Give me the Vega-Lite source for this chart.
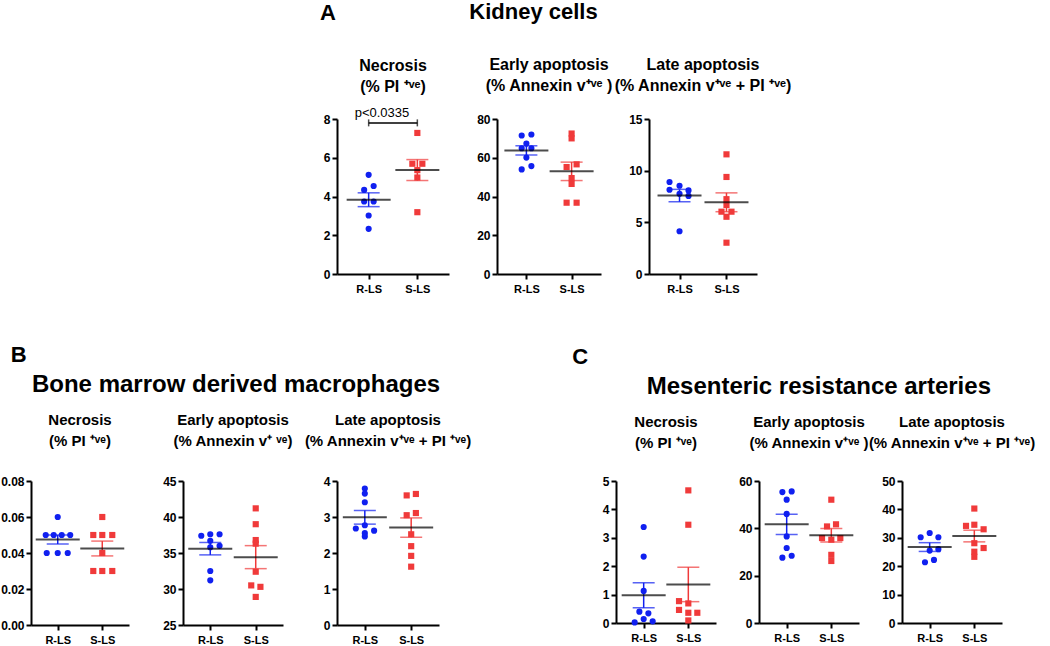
{
  "$schema": "https://vega.github.io/schema/vega-lite/v6.json",
  "padding": {"left": 0, "top": 1, "right": 0, "bottom": 0},
  "config": {
    "view": {"stroke": null},
    "font": "Liberation Sans",
    "axis": {"labelFont": "Liberation Sans", "labelFontWeight": "bold", "labelFontSize": 12, "labelColor": "#000", "domainColor": "#000", "domainWidth": 2, "tickColor": "#000", "tickWidth": 2, "tickSize": 5, "grid": false, "labelPadding": 2},
    "axisX": {"labelAngle": 0, "labelFontSize": 11, "labelPadding": 4},
    "title": {"font": "Liberation Sans", "fontWeight": "bold", "color": "#000", "fontSize": 15, "lineHeight": 20}
  },
  "datasets": {
    "pts": [
      {"p":"A1","g":"R-LS","v":5.12,"j":0},{"p":"A1","g":"R-LS","v":4.34,"j":-0.45},{"p":"A1","g":"R-LS","v":4.54,"j":0.5},{"p":"A1","g":"R-LS","v":3.74,"j":-0.45},{"p":"A1","g":"R-LS","v":3.74,"j":0.5},{"p":"A1","g":"R-LS","v":3.02,"j":0},{"p":"A1","g":"R-LS","v":2.33,"j":0},
      {"p":"A1","g":"S-LS","v":7.28,"j":0},{"p":"A1","g":"S-LS","v":5.69,"j":-0.5},{"p":"A1","g":"S-LS","v":5.69,"j":0.5},{"p":"A1","g":"S-LS","v":5.36,"j":0},{"p":"A1","g":"S-LS","v":4.98,"j":0},{"p":"A1","g":"S-LS","v":3.19,"j":0},
      {"p":"A2","g":"R-LS","v":71.5,"j":-0.47},{"p":"A2","g":"R-LS","v":72.0,"j":0.5},{"p":"A2","g":"R-LS","v":67.3,"j":0},{"p":"A2","g":"R-LS","v":64.9,"j":-0.47},{"p":"A2","g":"R-LS","v":64.9,"j":0.5},{"p":"A2","g":"R-LS","v":60.1,"j":0},{"p":"A2","g":"R-LS","v":54.0,"j":-0.47},{"p":"A2","g":"R-LS","v":55.7,"j":0.5},
      {"p":"A2","g":"S-LS","v":72.5,"j":0},{"p":"A2","g":"S-LS","v":70.0,"j":0},{"p":"A2","g":"S-LS","v":55.2,"j":-0.5},{"p":"A2","g":"S-LS","v":56.6,"j":0.5},{"p":"A2","g":"S-LS","v":49.5,"j":0},{"p":"A2","g":"S-LS","v":46.5,"j":0},{"p":"A2","g":"S-LS","v":36.8,"j":-0.5},{"p":"A2","g":"S-LS","v":36.8,"j":0.5},
      {"p":"A3","g":"R-LS","v":8.90,"j":-1},{"p":"A3","g":"R-LS","v":8.54,"j":0},{"p":"A3","g":"R-LS","v":8.15,"j":-1},{"p":"A3","g":"R-LS","v":8.09,"j":0.9},{"p":"A3","g":"R-LS","v":7.76,"j":0},{"p":"A3","g":"R-LS","v":7.56,"j":0.9},{"p":"A3","g":"R-LS","v":4.14,"j":0},
      {"p":"A3","g":"S-LS","v":11.58,"j":0},{"p":"A3","g":"S-LS","v":9.39,"j":0},{"p":"A3","g":"S-LS","v":7.24,"j":0},{"p":"A3","g":"S-LS","v":6.68,"j":0},{"p":"A3","g":"S-LS","v":6.03,"j":-0.5},{"p":"A3","g":"S-LS","v":6.03,"j":0.5},{"p":"A3","g":"S-LS","v":5.54,"j":0},{"p":"A3","g":"S-LS","v":3.03,"j":0},
      {"p":"B1","g":"R-LS","v":0.06,"j":0},{"p":"B1","g":"R-LS","v":0.05,"j":-1.2},{"p":"B1","g":"R-LS","v":0.05,"j":-0.4},{"p":"B1","g":"R-LS","v":0.05,"j":0.4},{"p":"B1","g":"R-LS","v":0.05,"j":1.25},{"p":"B1","g":"R-LS","v":0.04,"j":-1.1},{"p":"B1","g":"R-LS","v":0.04,"j":0},{"p":"B1","g":"R-LS","v":0.04,"j":1.0},
      {"p":"B1","g":"S-LS","v":0.06,"j":0},{"p":"B1","g":"S-LS","v":0.05,"j":-0.9},{"p":"B1","g":"S-LS","v":0.05,"j":0},{"p":"B1","g":"S-LS","v":0.05,"j":1.0},{"p":"B1","g":"S-LS","v":0.04,"j":0},{"p":"B1","g":"S-LS","v":0.03,"j":-0.9},{"p":"B1","g":"S-LS","v":0.03,"j":0},{"p":"B1","g":"S-LS","v":0.03,"j":1.0},
      {"p":"B2","g":"R-LS","v":37.4,"j":-0.9},{"p":"B2","g":"R-LS","v":37.6,"j":0},{"p":"B2","g":"R-LS","v":37.6,"j":0.93},{"p":"B2","g":"R-LS","v":36.7,"j":0},{"p":"B2","g":"R-LS","v":36.0,"j":0.93},{"p":"B2","g":"R-LS","v":35.8,"j":0},{"p":"B2","g":"R-LS","v":32.5,"j":0},{"p":"B2","g":"R-LS","v":31.2,"j":0},
      {"p":"B2","g":"S-LS","v":41.2,"j":0},{"p":"B2","g":"S-LS","v":39.0,"j":0},{"p":"B2","g":"S-LS","v":36.8,"j":0},{"p":"B2","g":"S-LS","v":36.3,"j":0},{"p":"B2","g":"S-LS","v":32.4,"j":0},{"p":"B2","g":"S-LS","v":30.5,"j":-0.45},{"p":"B2","g":"S-LS","v":30.3,"j":0.47},{"p":"B2","g":"S-LS","v":28.9,"j":0},
      {"p":"B3","g":"R-LS","v":3.79,"j":0},{"p":"B3","g":"R-LS","v":3.65,"j":0},{"p":"B3","g":"R-LS","v":3.41,"j":0},{"p":"B3","g":"R-LS","v":2.77,"j":0},{"p":"B3","g":"R-LS","v":2.68,"j":-0.9},{"p":"B3","g":"R-LS","v":2.62,"j":0.93},{"p":"B3","g":"R-LS","v":2.55,"j":0},{"p":"B3","g":"R-LS","v":2.46,"j":0},
      {"p":"B3","g":"S-LS","v":3.60,"j":-0.45},{"p":"B3","g":"S-LS","v":3.64,"j":0.47},{"p":"B3","g":"S-LS","v":3.05,"j":-0.45},{"p":"B3","g":"S-LS","v":3.11,"j":0.47},{"p":"B3","g":"S-LS","v":2.52,"j":0},{"p":"B3","g":"S-LS","v":2.19,"j":0},{"p":"B3","g":"S-LS","v":1.92,"j":0},{"p":"B3","g":"S-LS","v":1.62,"j":0},
      {"p":"C1","g":"R-LS","v":3.38,"j":0},{"p":"C1","g":"R-LS","v":2.34,"j":0},{"p":"C1","g":"R-LS","v":1.13,"j":0},{"p":"C1","g":"R-LS","v":0.40,"j":-0.43},{"p":"C1","g":"R-LS","v":0.34,"j":0.47},{"p":"C1","g":"R-LS","v":0.14,"j":0},{"p":"C1","g":"R-LS","v":0.02,"j":-0.9},{"p":"C1","g":"R-LS","v":0.06,"j":0.9},
      {"p":"C1","g":"S-LS","v":4.67,"j":0},{"p":"C1","g":"S-LS","v":3.46,"j":0},{"p":"C1","g":"S-LS","v":0.77,"j":-0.93},{"p":"C1","g":"S-LS","v":0.69,"j":0},{"p":"C1","g":"S-LS","v":0.46,"j":-0.93},{"p":"C1","g":"S-LS","v":0.36,"j":0},{"p":"C1","g":"S-LS","v":0.36,"j":0.9},{"p":"C1","g":"S-LS","v":0.09,"j":0},
      {"p":"C2","g":"R-LS","v":55.3,"j":-0.43},{"p":"C2","g":"R-LS","v":55.6,"j":0.5},{"p":"C2","g":"R-LS","v":52.1,"j":0},{"p":"C2","g":"R-LS","v":46.1,"j":0},{"p":"C2","g":"R-LS","v":36.6,"j":0},{"p":"C2","g":"R-LS","v":31.7,"j":0},{"p":"C2","g":"R-LS","v":27.6,"j":-0.43},{"p":"C2","g":"R-LS","v":28.4,"j":0.5},
      {"p":"C2","g":"S-LS","v":52.1,"j":0},{"p":"C2","g":"S-LS","v":40.8,"j":-0.43},{"p":"C2","g":"S-LS","v":41.7,"j":0.47},{"p":"C2","g":"S-LS","v":35.9,"j":-0.93},{"p":"C2","g":"S-LS","v":35.2,"j":0},{"p":"C2","g":"S-LS","v":35.9,"j":0.9},{"p":"C2","g":"S-LS","v":28.8,"j":0},{"p":"C2","g":"S-LS","v":26.2,"j":0},
      {"p":"C3","g":"R-LS","v":30.2,"j":-0.9},{"p":"C3","g":"R-LS","v":31.7,"j":0},{"p":"C3","g":"R-LS","v":30.2,"j":0.87},{"p":"C3","g":"R-LS","v":26.0,"j":0.87},{"p":"C3","g":"R-LS","v":25.5,"j":0},{"p":"C3","g":"R-LS","v":22.2,"j":0.43},{"p":"C3","g":"R-LS","v":21.4,"j":-0.47},
      {"p":"C3","g":"S-LS","v":40.3,"j":0},{"p":"C3","g":"S-LS","v":34.2,"j":-0.83},{"p":"C3","g":"S-LS","v":34.6,"j":0},{"p":"C3","g":"S-LS","v":33.0,"j":0.93},{"p":"C3","g":"S-LS","v":28.1,"j":0},{"p":"C3","g":"S-LS","v":26.4,"j":0.93},{"p":"C3","g":"S-LS","v":25.1,"j":0},{"p":"C3","g":"S-LS","v":23.3,"j":0}
    ],
    "ann": [
      {"g": "R-LS", "g2": "S-LS", "v": 7.8, "label": "p<0.0335"},
      {"g": "S-LS", "g2": "S-LS", "v": 7.8, "label": ""}
    ]
  },
  "spacing": 50,
  "vconcat": [
    {
      "spacing": -13,
      "hconcat": [
        {"width": 292, "height": 10, "title": {"text": "A", "anchor": "end", "fontSize": 22, "dx": 13, "offset": 94}, "data": {"values": []}, "mark": {"type": "point", "opacity": 0}},
        {
          "title": {"text": "Kidney cells", "anchor": "middle", "fontSize": 22, "offset": 33, "dx": -24},
          "bounds": "flush",
          "spacing": 48,
          "hconcat": [
            {
              "width": 112, "height": 155,
              "title": {"text": ["Necrosis", "(%  PI ⁺ᵛᵉ)"], "fontSize": 16, "lineHeight": 21, "offset": 12},
              "data": {"name": "pts"},
              "transform": [{"filter": "datum.p === 'A1'"}],
              "encoding": {
                "x": {"field": "g", "type": "nominal", "scale": {"type": "point", "domain": ["R-LS", "S-LS"], "padding": 0.65}, "axis": {"title": null}},
                "y": {"field": "v", "type": "quantitative", "scale": {"domain": [0, 8], "nice": false}, "axis": {"title": null, "values": [0, 2, 4, 6, 8]}}
              },
              "layer": [
                {"mark": {"type": "point", "filled": true, "size": 38, "opacity": 1}, "encoding": {"xOffset": {"field": "j", "type": "quantitative", "scale": {"domain": [-1, 1], "range": [-10, 10]}}, "color": {"field": "g", "type": "nominal", "scale": {"domain": ["R-LS", "S-LS"], "range": ["#1020f0", "#f03a3a"]}, "legend": null}, "shape": {"field": "g", "type": "nominal", "scale": {"domain": ["R-LS", "S-LS"], "range": ["circle", "square"]}, "legend": null}}},
                {"mark": {"type": "errorbar", "extent": "stderr", "ticks": true, "size": 22, "thickness": 1.5}, "encoding": {"color": {"field": "g", "type": "nominal", "legend": null}}},
                {"transform": [{"aggregate": [{"op": "mean", "field": "v", "as": "v"}], "groupby": ["g"]}], "mark": {"type": "tick", "size": 44, "thickness": 2, "color": "#000"}},
                {"data": {"name": "ann"}, "mark": {"type": "rule", "color": "#000", "strokeWidth": 1.5}, "encoding": {"x2": {"field": "g2"}}},
                {"data": {"name": "ann"}, "mark": {"type": "tick", "orient": "vertical", "size": 7, "thickness": 1.5, "color": "#000"}},
                {"data": {"name": "ann"}, "mark": {"type": "text", "align": "left", "baseline": "bottom", "dx": -14, "dy": -3, "fontSize": 13, "font": "Liberation Sans", "color": "#000"}, "encoding": {"text": {"field": "label"}}}
              ]
            },
            {
              "width": 104, "height": 155,
              "title": {"text": ["Early apoptosis", "(% Annexin v⁺ᵛᵉ )"], "fontSize": 16, "lineHeight": 21, "offset": 19},
              "data": {"name": "pts"},
              "transform": [{"filter": "datum.p === 'A2'"}],
              "encoding": {
                "x": {"field": "g", "type": "nominal", "scale": {"type": "point", "domain": ["R-LS", "S-LS"], "padding": 0.65}, "axis": {"title": null}},
                "y": {"field": "v", "type": "quantitative", "scale": {"domain": [0, 80], "nice": false}, "axis": {"title": null, "values": [0, 20, 40, 60, 80]}}
              },
              "layer": [
                {"mark": {"type": "point", "filled": true, "size": 38, "opacity": 1}, "encoding": {"xOffset": {"field": "j", "type": "quantitative", "scale": {"domain": [-1, 1], "range": [-10, 10]}}, "color": {"field": "g", "type": "nominal", "legend": null}, "shape": {"field": "g", "type": "nominal", "scale": {"domain": ["R-LS", "S-LS"], "range": ["circle", "square"]}, "legend": null}}},
                {"mark": {"type": "errorbar", "extent": "stderr", "ticks": true, "size": 22, "thickness": 1.5}, "encoding": {"color": {"field": "g", "type": "nominal", "legend": null}}},
                {"transform": [{"aggregate": [{"op": "mean", "field": "v", "as": "v"}], "groupby": ["g"]}], "mark": {"type": "tick", "size": 44, "thickness": 2, "color": "#000"}}
              ]
            },
            {
              "width": 108, "height": 155,
              "title": {"text": ["Late apoptosis", "(% Annexin v⁺ᵛᵉ + PI ⁺ᵛᵉ)"], "fontSize": 16, "lineHeight": 21, "offset": 19},
              "data": {"name": "pts"},
              "transform": [{"filter": "datum.p === 'A3'"}],
              "encoding": {
                "x": {"field": "g", "type": "nominal", "scale": {"type": "point", "domain": ["R-LS", "S-LS"], "padding": 0.65}, "axis": {"title": null}},
                "y": {"field": "v", "type": "quantitative", "scale": {"domain": [0, 15], "nice": false}, "axis": {"title": null, "values": [0, 5, 10, 15]}}
              },
              "layer": [
                {"mark": {"type": "point", "filled": true, "size": 38, "opacity": 1}, "encoding": {"xOffset": {"field": "j", "type": "quantitative", "scale": {"domain": [-1, 1], "range": [-10, 10]}}, "color": {"field": "g", "type": "nominal", "legend": null}, "shape": {"field": "g", "type": "nominal", "scale": {"domain": ["R-LS", "S-LS"], "range": ["circle", "square"]}, "legend": null}}},
                {"mark": {"type": "errorbar", "extent": "stderr", "ticks": true, "size": 22, "thickness": 1.5}, "encoding": {"color": {"field": "g", "type": "nominal", "legend": null}}},
                {"transform": [{"aggregate": [{"op": "mean", "field": "v", "as": "v"}], "groupby": ["g"]}], "mark": {"type": "tick", "size": 44, "thickness": 2, "color": "#000"}}
              ]
            }
          ]
        }
      ]
    },
    {
      "spacing": 100,
      "hconcat": [
        {
          "title": {"text": "B", "anchor": "start", "fontSize": 22, "offset": 6, "dx": 10},
          "vconcat": [
            {
              "title": {"text": "Bone marrow derived macrophages", "anchor": "middle", "fontSize": 24, "offset": 16},
              "bounds": "flush",
              "spacing": 54,
              "hconcat": [
                {
                  "width": 98, "height": 144,
                  "title": {"text": ["Necrosis", "(%  PI ⁺ᵛᵉ)"], "fontSize": 15, "lineHeight": 21, "offset": 26},
                  "data": {"name": "pts"},
                  "transform": [{"filter": "datum.p === 'B1'"}],
                  "encoding": {
                    "x": {"field": "g", "type": "nominal", "scale": {"type": "point", "domain": ["R-LS", "S-LS"], "padding": 0.6}, "axis": {"title": null}},
                    "y": {"field": "v", "type": "quantitative", "scale": {"domain": [0, 0.08], "nice": false}, "axis": {"title": null, "values": [0, 0.02, 0.04, 0.06, 0.08], "format": ".2f"}}
                  },
                  "layer": [
                    {"mark": {"type": "point", "filled": true, "size": 38, "opacity": 1}, "encoding": {"xOffset": {"field": "j", "type": "quantitative", "scale": {"domain": [-1, 1], "range": [-10, 10]}}, "color": {"field": "g", "type": "nominal", "legend": null}, "shape": {"field": "g", "type": "nominal", "scale": {"domain": ["R-LS", "S-LS"], "range": ["circle", "square"]}, "legend": null}}},
                    {"mark": {"type": "errorbar", "extent": "stderr", "ticks": true, "size": 22, "thickness": 1.5}, "encoding": {"color": {"field": "g", "type": "nominal", "legend": null}}},
                    {"transform": [{"aggregate": [{"op": "mean", "field": "v", "as": "v"}], "groupby": ["g"]}], "mark": {"type": "tick", "size": 44, "thickness": 2, "color": "#000"}}
                  ]
                },
                {
                  "width": 100, "height": 144,
                  "title": {"text": ["Early apoptosis", "(% Annexin v⁺ ᵛᵉ)"], "fontSize": 15, "lineHeight": 21, "offset": 26},
                  "data": {"name": "pts"},
                  "transform": [{"filter": "datum.p === 'B2'"}],
                  "encoding": {
                    "x": {"field": "g", "type": "nominal", "scale": {"type": "point", "domain": ["R-LS", "S-LS"], "padding": 0.6}, "axis": {"title": null}},
                    "y": {"field": "v", "type": "quantitative", "scale": {"domain": [25, 45], "nice": false, "zero": false}, "axis": {"title": null, "values": [25, 30, 35, 40, 45]}}
                  },
                  "layer": [
                    {"mark": {"type": "point", "filled": true, "size": 38, "opacity": 1}, "encoding": {"xOffset": {"field": "j", "type": "quantitative", "scale": {"domain": [-1, 1], "range": [-10, 10]}}, "color": {"field": "g", "type": "nominal", "legend": null}, "shape": {"field": "g", "type": "nominal", "scale": {"domain": ["R-LS", "S-LS"], "range": ["circle", "square"]}, "legend": null}}},
                    {"mark": {"type": "errorbar", "extent": "stderr", "ticks": true, "size": 22, "thickness": 1.5}, "encoding": {"color": {"field": "g", "type": "nominal", "legend": null}}},
                    {"transform": [{"aggregate": [{"op": "mean", "field": "v", "as": "v"}], "groupby": ["g"]}], "mark": {"type": "tick", "size": 44, "thickness": 2, "color": "#000"}}
                  ]
                },
                {
                  "width": 102, "height": 144,
                  "title": {"text": ["Late apoptosis", "(% Annexin v⁺ᵛᵉ + PI ⁺ᵛᵉ)"], "fontSize": 15, "lineHeight": 21, "offset": 26},
                  "data": {"name": "pts"},
                  "transform": [{"filter": "datum.p === 'B3'"}],
                  "encoding": {
                    "x": {"field": "g", "type": "nominal", "scale": {"type": "point", "domain": ["R-LS", "S-LS"], "padding": 0.6}, "axis": {"title": null}},
                    "y": {"field": "v", "type": "quantitative", "scale": {"domain": [0, 4], "nice": false}, "axis": {"title": null, "values": [0, 1, 2, 3, 4]}}
                  },
                  "layer": [
                    {"mark": {"type": "point", "filled": true, "size": 38, "opacity": 1}, "encoding": {"xOffset": {"field": "j", "type": "quantitative", "scale": {"domain": [-1, 1], "range": [-10, 10]}}, "color": {"field": "g", "type": "nominal", "legend": null}, "shape": {"field": "g", "type": "nominal", "scale": {"domain": ["R-LS", "S-LS"], "range": ["circle", "square"]}, "legend": null}}},
                    {"mark": {"type": "errorbar", "extent": "stderr", "ticks": true, "size": 22, "thickness": 1.5}, "encoding": {"color": {"field": "g", "type": "nominal", "legend": null}}},
                    {"transform": [{"aggregate": [{"op": "mean", "field": "v", "as": "v"}], "groupby": ["g"]}], "mark": {"type": "tick", "size": 44, "thickness": 2, "color": "#000"}}
                  ]
                }
              ]
            }
          ]
        },
        {
          "title": {"text": "C", "anchor": "start", "fontSize": 22, "offset": 6, "dx": -30},
          "vconcat": [
            {
              "title": {"text": "Mesenteric resistance arteries", "anchor": "middle", "fontSize": 24, "offset": 16},
              "bounds": "flush",
              "spacing": 43,
              "hconcat": [
                {
                  "width": 100, "height": 142,
                  "title": {"text": ["Necrosis", "(% PI ⁺ᵛᵉ)"], "fontSize": 15, "lineHeight": 21, "offset": 24},
                  "data": {"name": "pts"},
                  "transform": [{"filter": "datum.p === 'C1'"}],
                  "encoding": {
                    "x": {"field": "g", "type": "nominal", "scale": {"type": "point", "domain": ["R-LS", "S-LS"], "padding": 0.62}, "axis": {"title": null}},
                    "y": {"field": "v", "type": "quantitative", "scale": {"domain": [0, 5], "nice": false}, "axis": {"title": null, "values": [0, 1, 2, 3, 4, 5]}}
                  },
                  "layer": [
                    {"mark": {"type": "point", "filled": true, "size": 38, "opacity": 1}, "encoding": {"xOffset": {"field": "j", "type": "quantitative", "scale": {"domain": [-1, 1], "range": [-10, 10]}}, "color": {"field": "g", "type": "nominal", "legend": null}, "shape": {"field": "g", "type": "nominal", "scale": {"domain": ["R-LS", "S-LS"], "range": ["circle", "square"]}, "legend": null}}},
                    {"mark": {"type": "errorbar", "extent": "stderr", "ticks": true, "size": 22, "thickness": 1.5}, "encoding": {"color": {"field": "g", "type": "nominal", "legend": null}}},
                    {"transform": [{"aggregate": [{"op": "mean", "field": "v", "as": "v"}], "groupby": ["g"]}], "mark": {"type": "tick", "size": 44, "thickness": 2, "color": "#000"}}
                  ]
                },
                {
                  "width": 100, "height": 142,
                  "title": {"text": ["Early apoptosis", "(% Annexin v⁺ᵛᵉ )"], "fontSize": 15, "lineHeight": 21, "offset": 24},
                  "data": {"name": "pts"},
                  "transform": [{"filter": "datum.p === 'C2'"}],
                  "encoding": {
                    "x": {"field": "g", "type": "nominal", "scale": {"type": "point", "domain": ["R-LS", "S-LS"], "padding": 0.62}, "axis": {"title": null}},
                    "y": {"field": "v", "type": "quantitative", "scale": {"domain": [0, 60], "nice": false}, "axis": {"title": null, "values": [0, 20, 40, 60]}}
                  },
                  "layer": [
                    {"mark": {"type": "point", "filled": true, "size": 38, "opacity": 1}, "encoding": {"xOffset": {"field": "j", "type": "quantitative", "scale": {"domain": [-1, 1], "range": [-10, 10]}}, "color": {"field": "g", "type": "nominal", "legend": null}, "shape": {"field": "g", "type": "nominal", "scale": {"domain": ["R-LS", "S-LS"], "range": ["circle", "square"]}, "legend": null}}},
                    {"mark": {"type": "errorbar", "extent": "stderr", "ticks": true, "size": 22, "thickness": 1.5}, "encoding": {"color": {"field": "g", "type": "nominal", "legend": null}}},
                    {"transform": [{"aggregate": [{"op": "mean", "field": "v", "as": "v"}], "groupby": ["g"]}], "mark": {"type": "tick", "size": 44, "thickness": 2, "color": "#000"}}
                  ]
                },
                {
                  "width": 100, "height": 142,
                  "title": {"text": ["Late apoptosis", "(% Annexin v⁺ᵛᵉ + PI ⁺ᵛᵉ)"], "fontSize": 15, "lineHeight": 21, "offset": 24},
                  "data": {"name": "pts"},
                  "transform": [{"filter": "datum.p === 'C3'"}],
                  "encoding": {
                    "x": {"field": "g", "type": "nominal", "scale": {"type": "point", "domain": ["R-LS", "S-LS"], "padding": 0.62}, "axis": {"title": null}},
                    "y": {"field": "v", "type": "quantitative", "scale": {"domain": [0, 50], "nice": false}, "axis": {"title": null, "values": [0, 10, 20, 30, 40, 50]}}
                  },
                  "layer": [
                    {"mark": {"type": "point", "filled": true, "size": 38, "opacity": 1}, "encoding": {"xOffset": {"field": "j", "type": "quantitative", "scale": {"domain": [-1, 1], "range": [-10, 10]}}, "color": {"field": "g", "type": "nominal", "legend": null}, "shape": {"field": "g", "type": "nominal", "scale": {"domain": ["R-LS", "S-LS"], "range": ["circle", "square"]}, "legend": null}}},
                    {"mark": {"type": "errorbar", "extent": "stderr", "ticks": true, "size": 22, "thickness": 1.5}, "encoding": {"color": {"field": "g", "type": "nominal", "legend": null}}},
                    {"transform": [{"aggregate": [{"op": "mean", "field": "v", "as": "v"}], "groupby": ["g"]}], "mark": {"type": "tick", "size": 44, "thickness": 2, "color": "#000"}}
                  ]
                }
              ]
            }
          ]
        }
      ]
    }
  ]
}
